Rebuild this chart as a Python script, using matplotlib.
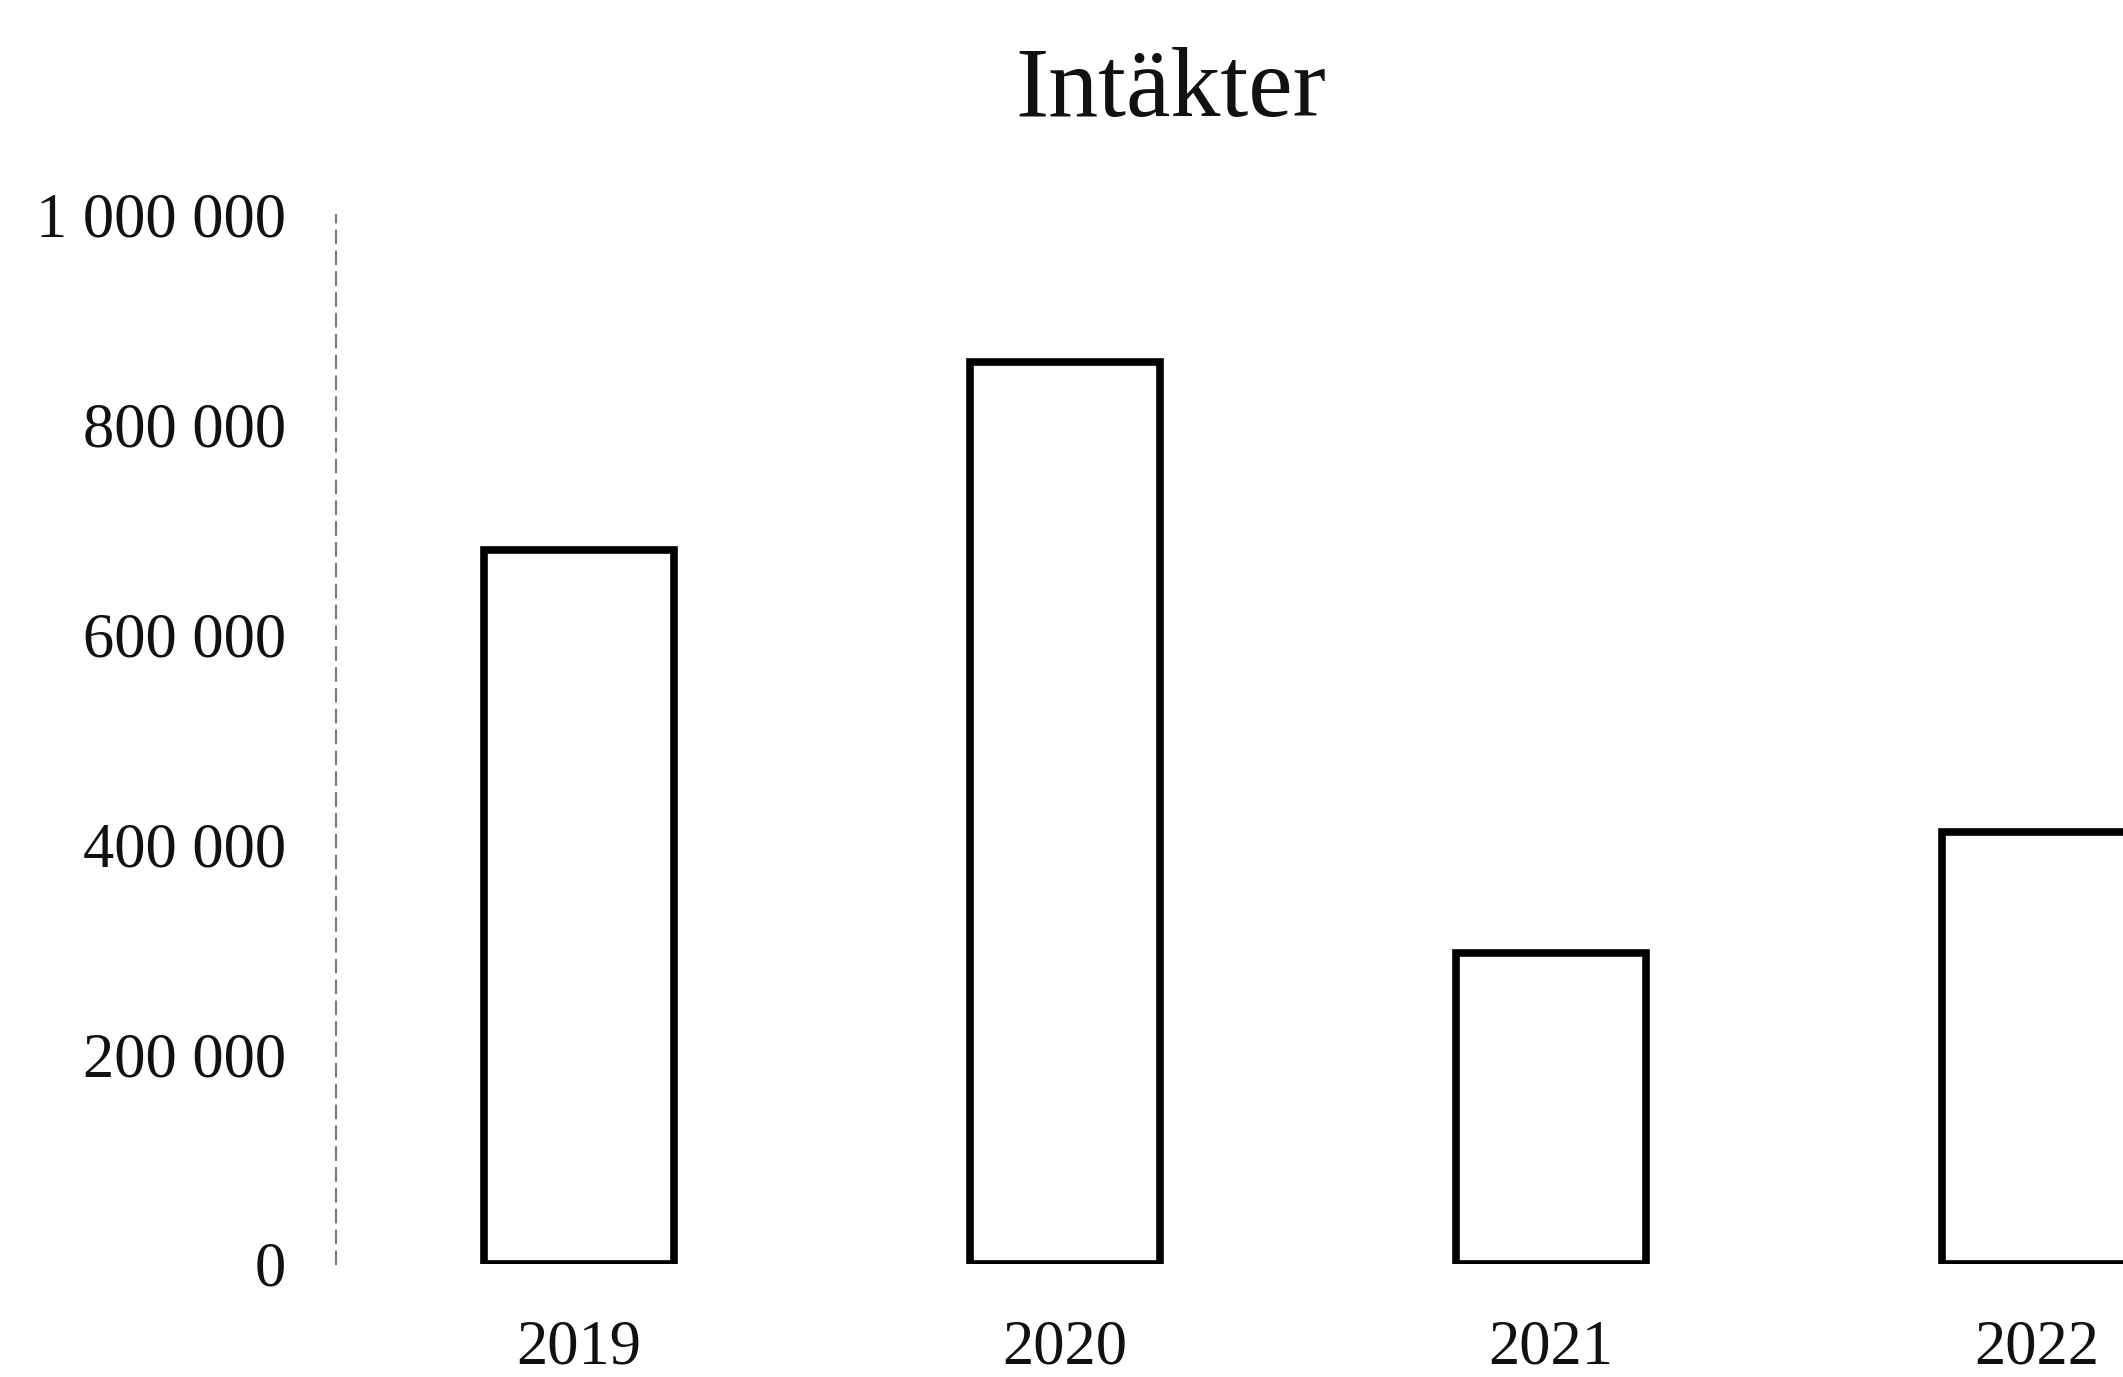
import matplotlib
matplotlib.use("Agg")
import matplotlib.pyplot as plt
from matplotlib.ticker import FuncFormatter

# Data
years = ["2019", "2020", "2021", "2022"]
revenue = [681000, 860000, 296000, 412000]
y_ticks = [0, 200000, 400000, 600000, 800000, 1000000]

plt.rcParams["font.family"] = ["Liberation Serif", "DejaVu Serif"]

fig = plt.figure(figsize=(21.23, 13.77), dpi=100, facecolor="white")
# axes runs off the right edge, like the reference (last bar is cut)
ax = fig.add_axes([0.1583, 0.0821, 0.9157, 0.7618])

x = range(len(years))
ax.bar(x, revenue, width=0.39, facecolor="white", edgecolor="black",
       linewidth=5.5, zorder=3)

ax.set_xlim(-0.5, 3.5)
ax.set_ylim(0, 1000000)
ax.set_xticks(list(x))
ax.set_xticklabels(years)
ax.set_yticks(y_ticks)
ax.yaxis.set_major_formatter(
    FuncFormatter(lambda v, p: f"{int(v):,}".replace(",", " ")))

ax.tick_params(axis="both", length=0, labelsize=45, colors="#111111")
ax.tick_params(axis="y", pad=36)
ax.tick_params(axis="x", pad=40)

for s in ("top", "right", "bottom"):
    ax.spines[s].set_visible(False)
ax.spines["left"].set_color("#777777")
ax.spines["left"].set_linewidth(1.5)
ax.spines["left"].set_linestyle((0, (6, 4)))

fig.text(0.5517, 0.933, "Intäkter", fontsize=72, ha="center", va="center",
         color="#111111")

fig.savefig("out.png", dpi=100, facecolor="white")
